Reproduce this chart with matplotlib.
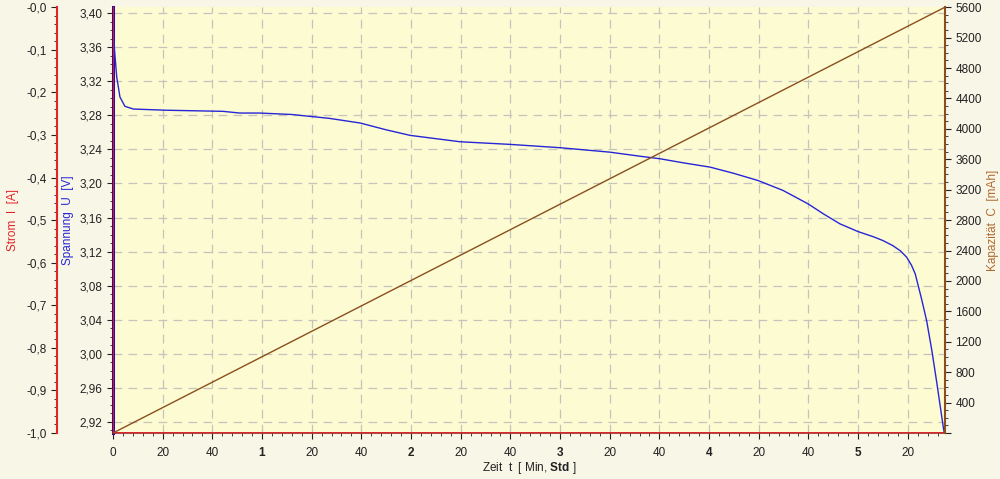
import matplotlib
matplotlib.use("Agg")
import matplotlib.pyplot as plt
from matplotlib.ticker import MultipleLocator, FuncFormatter

plt.rcParams['font.family'] = ['Liberation Sans', 'DejaVu Sans']
plt.rcParams['mathtext.fontset'] = 'custom'
plt.rcParams['mathtext.rm'] = 'Liberation Sans'
plt.rcParams['mathtext.bf'] = 'Liberation Sans:bold'

# Messwerte (Zeit in Minuten)
zeit_u = [0, 0.8, 1.5, 2.8, 4.8, 8.2, 21.6, 44.3, 51, 59, 72, 75.3, 87, 99.5, 110, 119.6,
          139.7, 159.9, 180, 200, 212.2, 220.3, 229.5, 240.4, 249.7, 259.7, 269.8,
          279.9, 286, 292.7, 300, 306, 310, 314, 317, 319.6, 321.5, 323, 325.6,
          327.6, 329.7, 331.7, 334.4, 335]
spannung = [3.378, 3.35, 3.325, 3.3015, 3.2906, 3.2874, 3.286, 3.2847, 3.2827, 3.2827,
            3.281, 3.280, 3.2765, 3.271, 3.263, 3.2565, 3.249, 3.2459, 3.242, 3.2368,
            3.232, 3.229, 3.2243, 3.2192, 3.2121, 3.2035, 3.1918, 3.176, 3.1644,
            3.1526, 3.1435, 3.1376, 3.133, 3.127, 3.121, 3.1133, 3.104, 3.094, 3.0640,
            3.039, 3.004, 2.966, 2.912, 2.903]
zeit_i = [0, 0, 335]
strom = [0.0, -1.0, -1.0]
zeit_c = [0, 335]
kapazitaet = [0, 5600]

bg_fig = '#F8F6E7'
bg_ax = '#FDFBD2'
c_blue = '#2626D6'
c_red = '#E02428'
c_brown = '#8A4F1E'
c_brown_lbl = '#B06A30'

fig = plt.figure(figsize=(10, 4.79), dpi=100, facecolor=bg_fig)
ax = fig.add_axes([0.113, 0.096, 0.832, 0.889])
ax.set_facecolor(bg_ax)

# Spannung
ax.plot(zeit_u, spannung, color=c_blue, lw=1.0, zorder=3)
ax.set_xlim(0, 335)
ax.set_ylim(2.907, 3.407)
ax.yaxis.set_major_locator(MultipleLocator(0.04))
ax.yaxis.set_minor_locator(MultipleLocator(0.01))
ax.yaxis.set_major_formatter(FuncFormatter(lambda v, p: f'{v:.2f}'.replace('.', ',')))
ax.xaxis.set_major_locator(MultipleLocator(20))
ax.xaxis.set_minor_locator(MultipleLocator(4))


def fmt_x(v, p):
    m = int(round(v))
    if m % 60 == 0 and m > 0:
        return str(m // 60)
    return str(m % 60)


ax.xaxis.set_major_formatter(FuncFormatter(fmt_x))
ax.grid(True, which='major', color='#C4C4BC', ls=(0, (7, 5)), lw=0.9)
ax.tick_params(axis='both', which='major', length=4, labelsize=8.5, colors='#222222')
ax.tick_params(axis='both', which='minor', length=2.5, colors='#222222')
ax.tick_params(axis='x', pad=6)
fig.canvas.draw()
for t, lbl in zip(ax.get_xticks(), ax.get_xticklabels()):
    if int(round(t)) % 60 == 0 and t > 0:
        lbl.set_fontweight('bold')

ax.spines['left'].set_color('#3A0A8A')
ax.spines['left'].set_linewidth(2.2)
ax.spines['bottom'].set_color('#A0282A')
ax.spines['bottom'].set_linewidth(1.2)
ax.spines['top'].set_visible(False)
ax.spines['right'].set_visible(False)
ax.set_ylabel('Spannung  U  [V]', color=c_blue, fontsize=8.5)
ax.yaxis.set_label_coords(-0.047, 0.5)
ax.set_xlabel(r'Zeit  t  [ Min, $\mathbf{Std}$ ]', fontsize=8.5, color='#222222')
ax.xaxis.set_label_coords(0.5, -0.064)

# Strom
ax_i = ax.twinx()
ax_i.plot(zeit_i, strom, color=c_red, lw=1.2, zorder=2)
ax_i.set_ylim(-1.0, 0.0)
ax_i.yaxis.set_ticks_position('left')
ax_i.yaxis.set_label_position('left')
ax_i.spines['left'].set_position(('axes', -0.0673))
ax_i.spines['left'].set_color(c_red)
ax_i.spines['left'].set_linewidth(1.5)
for s in ['right', 'top', 'bottom']:
    ax_i.spines[s].set_visible(False)
ax_i.yaxis.set_major_locator(MultipleLocator(0.1))
ax_i.yaxis.set_minor_locator(MultipleLocator(0.02))
ax_i.yaxis.set_major_formatter(FuncFormatter(lambda v, p: '-' + f'{abs(v):.1f}'.replace('.', ',')))
ax_i.tick_params(axis='y', which='major', length=4, labelsize=8.5, colors='#222222')
ax_i.tick_params(axis='y', which='minor', length=2.5, colors='#222222')
ax_i.set_ylabel('Strom  I  [A]', color=c_red, fontsize=8.5)
ax_i.yaxis.set_label_coords(-0.113, 0.5)

# Kapazität
ax_c = ax.twinx()
ax_c.plot(zeit_c, kapazitaet, color=c_brown, lw=1.0, zorder=2)
ax_c.set_ylim(0, 5600)
ax_c.yaxis.set_major_locator(MultipleLocator(400))
ax_c.yaxis.set_minor_locator(MultipleLocator(100))
ax_c.yaxis.set_major_formatter(FuncFormatter(lambda v, p: '' if v == 0 else f'{int(v)}'))
ax_c.spines['right'].set_color(c_brown)
ax_c.spines['right'].set_linewidth(1.5)
for s in ['left', 'top', 'bottom']:
    ax_c.spines[s].set_visible(False)
ax_c.tick_params(axis='y', which='major', length=4, labelsize=8.5, colors='#222222')
ax_c.tick_params(axis='y', which='minor', length=2.5, colors='#222222')
ax_c.set_ylabel('Kapazität  C  [mAh]', color=c_brown_lbl, fontsize=8.5)
ax_c.yaxis.set_label_coords(1.050, 0.5)

fig.savefig('out.png', dpi=100, facecolor=bg_fig)
